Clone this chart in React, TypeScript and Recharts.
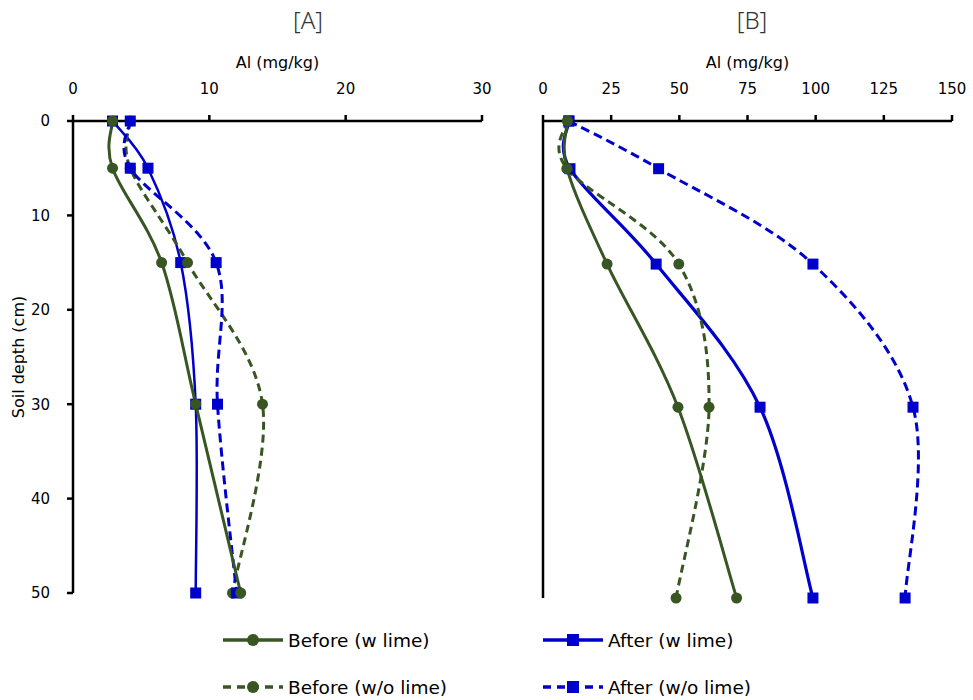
import React from "react";
import { LineChart, Line, XAxis, YAxis, Label } from "recharts";

// ---------- data ----------
const depths = [0, 5, 15, 30, 50];

const beforeWLimeA = [2.9, 2.9, 6.5, 9.0, 12.3];
const beforeWoLimeA = [4.2, 4.2, 8.4, 13.9, 11.7];
const afterWLimeA = [2.9, 5.5, 7.9, 9.0, 9.0];
const afterWoLimeA = [4.2, 4.2, 10.5, 10.6, 12.0];

const beforeWLimeB = [9.0, 8.8, 23.5, 49.5, 71.0];
const beforeWoLimeB = [9.0, 8.8, 49.8, 60.9, 48.8];
const afterWLimeB = [9.5, 9.9, 41.5, 79.6, 99.0];
const afterWoLimeB = [9.5, 42.4, 99.0, 135.7, 132.8];

const xTicksA = [0, 10, 20, 30];
const xTicksB = [0, 25, 50, 75, 100, 125, 150];
const yTicks = [0, 10, 20, 30, 40, 50];

const seriesNames = {
  bw: "Before (w lime)",
  bwo: "Before (w/o lime)",
  aw: "After (w lime)",
  awo: "After (w/o lime)",
};

const GREEN = "#375623";
const BLUE = "#0000CC";

const buildRows = (bw: number[], bwo: number[], aw: number[], awo: number[]) =>
  depths.map((d, i) => ({ depth: d, bw: bw[i], bwo: bwo[i], aw: aw[i], awo: awo[i] }));

const dataA = buildRows(beforeWLimeA, beforeWoLimeA, afterWLimeA, afterWoLimeA);
const dataB = buildRows(beforeWLimeB, beforeWoLimeB, afterWLimeB, afterWoLimeB);

// Excel-like smoothed line (Catmull-Rom as cubic Bezier)
function excelSmooth(context: any) {
  let pts: [number, number][] = [];
  return {
    areaStart() {},
    areaEnd() {},
    lineStart() {
      pts = [];
    },
    point(x: number, y: number) {
      pts.push([+x, +y]);
    },
    lineEnd() {
      const n = pts.length;
      if (!n) return;
      context.moveTo(pts[0][0], pts[0][1]);
      if (n === 1) return;
      const t = 1 / 6;
      for (let i = 0; i < n - 1; i++) {
        const p0 = pts[i - 1] || pts[i];
        const p1 = pts[i];
        const p2 = pts[i + 1];
        const p3 = pts[i + 2] || p2;
        context.bezierCurveTo(
          p1[0] + (p2[0] - p0[0]) * t,
          p1[1] + (p2[1] - p0[1]) * t,
          p2[0] - (p3[0] - p1[0]) * t,
          p2[1] - (p3[1] - p1[1]) * t,
          p2[0],
          p2[1]
        );
      }
    },
  };
}

const squareDot = (color: string, size: number) => (p: any) => {
  if (p.cx == null || p.cy == null) return <g key={p.index} />;
  return (
    <rect
      key={`sq-${p.index}`}
      x={p.cx - size / 2}
      y={p.cy - size / 2}
      width={size}
      height={size}
      fill={color}
      stroke="none"
    />
  );
};

const circleDot = (color: string, r: number) => (p: any) => {
  if (p.cx == null || p.cy == null) return <g key={p.index} />;
  return <circle key={`ci-${p.index}`} cx={p.cx} cy={p.cy} r={r} fill={color} stroke="none" />;
};

const AXIS_FONT = "'DejaVu Sans', Verdana, sans-serif";
const axisStroke = { stroke: "#000", strokeWidth: 2.5 };
const tickStyle = { fill: "#000", fontSize: 15, fontFamily: AXIS_FONT };

const YLabel = (props: any) => {
  const vb = props.viewBox || {};
  const cx = vb.x + 18;
  const cy = vb.y + vb.height / 2;
  return (
    <text
      x={cx}
      y={cy}
      transform={`rotate(-90 ${cx} ${cy})`}
      textAnchor="middle"
      dominantBaseline="central"
      fontSize={16}
      fontFamily={AXIS_FONT}
      fill="#000"
    >
      Soil depth (cm)
    </text>
  );
};

function Panel({
  data,
  xMax,
  xTicks,
  showYLabels,
  height,
  width,
  margin,
  yAxisWidth,
  blueSolidWidth,
}: any) {
  return (
    <LineChart layout="vertical" width={width} height={height} data={data} margin={margin}>
      <XAxis
        type="number"
        orientation="top"
        domain={[0, xMax]}
        ticks={xTicks}
        interval={0}
        height={64}
        axisLine={axisStroke}
        tickLine={axisStroke}
        tickSize={6}
        tickMargin={21}
        tick={tickStyle}
        allowDataOverflow
      >
        <Label
          value="Al (mg/kg)"
          position="insideTop"
          offset={0}
          style={{ fontSize: 16, fontFamily: AXIS_FONT, fill: "#000" }}
        />
      </XAxis>
      <YAxis
        type="number"
        dataKey="depth"
        domain={[0, 50]}
        ticks={yTicks}
        interval={0}
        width={yAxisWidth}
        axisLine={axisStroke}
        tickLine={axisStroke}
        tickSize={6}
        tickMargin={17}
        tick={showYLabels ? tickStyle : false}
      >
        {showYLabels ? <Label content={<YLabel />} /> : null}
      </YAxis>
      <Line
        name={seriesNames.aw}
        dataKey="aw"
        type={excelSmooth as any}
        stroke={BLUE}
        strokeWidth={blueSolidWidth}
        dot={squareDot(BLUE, 11)}
        activeDot={false}
        isAnimationActive={false}
      />
      <Line
        name={seriesNames.bwo}
        dataKey="bwo"
        type={excelSmooth as any}
        stroke={GREEN}
        strokeWidth={3}
        strokeDasharray="8 5"
        dot={circleDot(GREEN, 5.5)}
        activeDot={false}
        isAnimationActive={false}
      />
      <Line
        name={seriesNames.awo}
        dataKey="awo"
        type={excelSmooth as any}
        stroke={BLUE}
        strokeWidth={3}
        strokeDasharray="9 5"
        dot={squareDot(BLUE, 11)}
        activeDot={false}
        isAnimationActive={false}
      />
      <Line
        name={seriesNames.bw}
        dataKey="bw"
        type={excelSmooth as any}
        stroke={GREEN}
        strokeWidth={3}
        dot={circleDot(GREEN, 5.5)}
        activeDot={false}
        isAnimationActive={false}
      />
    </LineChart>
  );
}

const LegendItem = ({ x, y, color, dashed, marker, label }: any) => (
  <g>
    <line
      x1={x}
      y1={y}
      x2={x + 60}
      y2={y}
      stroke={color}
      strokeWidth={3.5}
      strokeDasharray={dashed ? "8 6" : undefined}
    />
    {marker === "circle" ? (
      <circle cx={x + 30} cy={y} r={6} fill={color} />
    ) : (
      <rect x={x + 24} y={y - 6} width={12} height={12} fill={color} />
    )}
    <text
      x={x + 65}
      y={y}
      dominantBaseline="central"
      fontSize={18.5}
      fontFamily={AXIS_FONT}
      fill="#000"
    >
      {label}
    </text>
  </g>
);

const titleStyle: React.CSSProperties = {
  position: "absolute",
  top: 3,
  width: 100,
  textAlign: "center",
  fontFamily: "'Noto Sans', sans-serif",
  fontWeight: 300,
  fontSize: 24,
  color: "#333",
};

export default function App() {
  return (
    <div
      style={{
        position: "absolute",
        left: 0,
        top: 0,
        width: 973,
        height: 700,
        background: "#fff",
        overflow: "hidden",
      }}
    >
      <div style={{ ...titleStyle, left: 258 }}>[A]</div>
      <div style={{ ...titleStyle, left: 702 }}>[B]</div>
      <div style={{ position: "absolute", left: 0, top: 0 }}>
        <Panel
          data={dataA}
          xMax={30}
          xTicks={xTicksA}
          showYLabels
          width={500}
          height={610}
          yAxisWidth={73}
          margin={{ top: 57, right: 18, bottom: 17, left: 0 }}
          blueSolidWidth={2.5}
        />
      </div>
      <div style={{ position: "absolute", left: 470, top: 0 }}>
        <Panel
          data={dataB}
          xMax={150}
          xTicks={xTicksB}
          showYLabels={false}
          width={500}
          height={615}
          yAxisWidth={40}
          margin={{ top: 57, right: 18, bottom: 17, left: 33 }}
          blueSolidWidth={3.2}
        />
      </div>
      <svg
        width={973}
        height={90}
        style={{ position: "absolute", left: 0, top: 610 }}
      >
        <LegendItem x={223} y={30} color={GREEN} marker="circle" label={seriesNames.bw} />
        <LegendItem x={223} y={77} color={GREEN} marker="circle" dashed label={seriesNames.bwo} />
        <LegendItem x={543} y={30} color={BLUE} marker="square" label={seriesNames.aw} />
        <LegendItem x={543} y={77} color={BLUE} marker="square" dashed label={seriesNames.awo} />
      </svg>
    </div>
  );
}
